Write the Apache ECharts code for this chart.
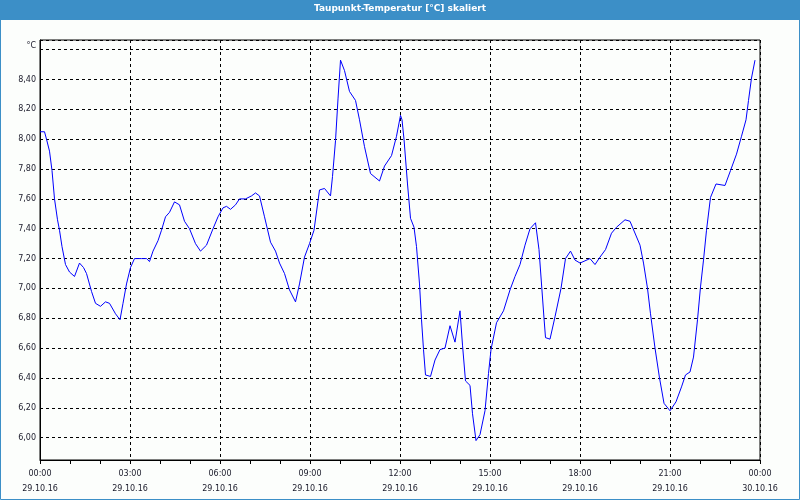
<!DOCTYPE html>
<html>
<head>
<meta charset="utf-8">
<script src="https://cdn.jsdelivr.net/npm/echarts@6/dist/echarts.min.js"></script>
<style>
html,body{margin:0;padding:0;background:#fcfefc;}
#chart{width:800px;height:500px;}
</style>
</head>
<body>
<div id="chart"></div>
<script>
// Time in minutes since 29.10.16 00:00
const timesMin = [0,9,13,19,24,29,35,39,44,51,59,69,79,87,93,103,111,121,131,139,151,160,166,173,181,189,203,213,219,226,236,243,251,259,269,279,289,299,311,321,333,346,356,366,373,381,391,399,411,423,431,439,449,461,471,479,489,499,511,519,529,539,548,559,569,581,585,591,596,601,609,619,631,639,649,661,679,689,703,713,721,724,728,735,741,748,753,759,763,767,771,781,790,800,810,820,830,840,845,851,860,865,872,880,890,897,902,913,927,940,950,960,970,980,991,998,1008,1011,1020,1030,1042,1051,1061,1070,1080,1100,1110,1120,1131,1143,1153,1170,1180,1200,1207,1215,1221,1230,1239,1248,1260,1272,1283,1291,1300,1307,1315,1321,1327,1333,1341,1352,1370,1381,1393,1403,1412,1417,1423,1430];
const dewPoint = [8.05,8.05,8.00,7.92,7.79,7.60,7.46,7.39,7.28,7.16,7.11,7.08,7.17,7.14,7.10,6.98,6.90,6.88,6.91,6.90,6.83,6.79,6.90,7.03,7.14,7.20,7.20,7.20,7.18,7.25,7.32,7.39,7.48,7.51,7.58,7.56,7.45,7.40,7.30,7.25,7.29,7.40,7.48,7.54,7.55,7.53,7.56,7.60,7.60,7.62,7.64,7.62,7.48,7.31,7.25,7.17,7.10,6.99,6.91,7.03,7.21,7.30,7.39,7.66,7.67,7.62,7.75,7.99,8.27,8.53,8.46,8.32,8.26,8.13,7.95,7.77,7.72,7.82,7.89,8.02,8.16,8.13,8.00,7.70,7.47,7.41,7.28,7.03,6.79,6.59,6.42,6.41,6.52,6.59,6.60,6.75,6.64,6.85,6.62,6.38,6.35,6.16,5.98,6.02,6.18,6.43,6.59,6.77,6.85,6.99,7.08,7.16,7.29,7.40,7.44,7.26,6.80,6.67,6.66,6.81,7.00,7.20,7.25,7.19,7.17,7.20,7.16,7.21,7.26,7.37,7.41,7.46,7.45,7.29,7.17,7.00,6.83,6.60,6.40,6.23,6.18,6.24,6.34,6.42,6.44,6.54,6.79,7.01,7.19,7.39,7.61,7.70,7.69,7.79,7.90,8.02,8.13,8.26,8.41,8.53];
const xTickDates = ['29.10.16','30.10.16'];
const titleText = 'Taupunkt-Temperatur [°C] skaliert';
const unitLabel = '°C';

const seriesData = timesMin.map((t, i) => [t, dewPoint[i]]);
const font = 'DejaVu Sans';

const chart = echarts.init(document.getElementById('chart'), null, {renderer: 'canvas'});
chart.setOption({
  animation: false,
  backgroundColor: '#fcfefc',
  graphic: [
    {type: 'rect', z: -10, shape: {x: 0, y: 0, width: 800, height: 20}, style: {fill: '#3c8fc7'}},
    {type: 'rect', z: 100, shape: {x: 0.5, y: 0.5, width: 799, height: 499}, style: {fill: 'none', stroke: '#3c8fc7', lineWidth: 1}}
  ],
  title: {
    text: titleText,
    left: 'center',
    top: 3,
    padding: 0,
    textStyle: {color: '#ffffff', fontFamily: font, fontSize: 9, fontWeight: 'bold', lineHeight: 12}
  },
  grid: {left: 40, right: 40, top: 40, bottom: 40, show: true, borderColor: '#000', borderWidth: 1, backgroundColor: 'transparent'},
  xAxis: {
    type: 'value',
    min: 0,
    max: 1440,
    interval: 180,
    axisLine: {lineStyle: {color: '#000', width: 1}},
    axisTick: {show: true, length: 4, lineStyle: {color: '#000'}},
    minorTick: {show: true, splitNumber: 3, length: 4, lineStyle: {color: '#000'}},
    splitLine: {show: true, lineStyle: {color: '#000', type: [3, 3], width: 1}},
    axisLabel: {
      margin: 6,
      color: '#1a1a2a',
      fontFamily: font,
      fontSize: 8,
      lineHeight: 15,
      formatter: function (v) {
        const day = Math.floor(v / 1440);
        const m = v - day * 1440;
        const hh = String(Math.floor(m / 60)).padStart(2, '0');
        const mm = String(m % 60).padStart(2, '0');
        return hh + ':' + mm + '\n' + xTickDates[day];
      }
    }
  },
  yAxis: {
    type: 'value',
    min: 5.85,
    max: 8.665,
    splitNumber: 14,
    name: unitLabel,
    nameLocation: 'end',
    nameGap: -10,
    nameTextStyle: {color: '#1a1a2a', fontFamily: font, fontSize: 8, align: 'right', padding: [0, 4, 0, 0]},
    axisLine: {show: true, lineStyle: {color: '#000', width: 1}},
    axisTick: {show: false},
    splitLine: {show: true, lineStyle: {color: '#000', type: [3, 3], width: 1}},
    axisLabel: {
      margin: 4,
      color: '#1a1a2a',
      fontFamily: font,
      fontSize: 8,
      showMinLabel: false,
      showMaxLabel: false,
      formatter: function (v) {
        if (Math.abs(v - 8.6) < 1e-6) return '';
        return v.toFixed(2).replace('.', ',');
      }
    }
  },
  series: [{
    type: 'line',
    data: seriesData,
    showSymbol: false,
    symbol: 'none',
    lineStyle: {color: '#0000ff', width: 1},
    smooth: false
  }]
});
</script>
</body>
</html>
